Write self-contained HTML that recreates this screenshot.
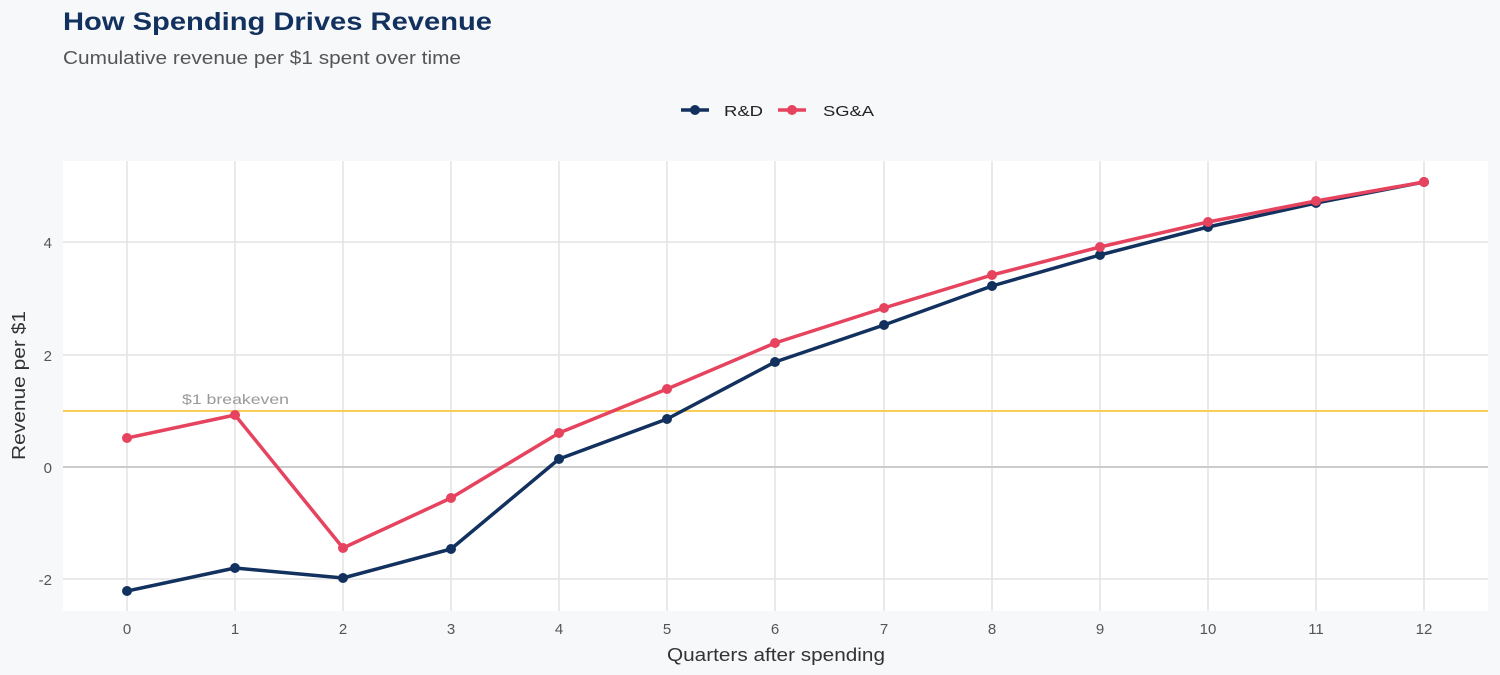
<!DOCTYPE html>
<html><head><meta charset="utf-8"><style>
body{margin:0;background:#f7f8fa;}
svg{display:block;font-family:"Liberation Sans",sans-serif;}
</style></head><body>
<svg width="1500" height="675" viewBox="0 0 1500 675">
<rect width="1500" height="675" fill="#f7f8fa"/>
<text x="63" y="30" font-size="25" font-weight="bold" fill="#12315e" textLength="429" lengthAdjust="spacingAndGlyphs">How Spending Drives Revenue</text>
<text x="63" y="64" font-size="18" fill="#555" textLength="398" lengthAdjust="spacingAndGlyphs">Cumulative revenue per $1 spent over time</text>
<line x1="681" y1="110" x2="709" y2="110" stroke="#12315e" stroke-width="3.5"/><circle cx="695" cy="110" r="5" fill="#12315e"/>
<text x="724" y="116" font-size="15" fill="#222" textLength="39" lengthAdjust="spacingAndGlyphs">R&amp;D</text>
<line x1="778" y1="110" x2="806" y2="110" stroke="#e6435f" stroke-width="3.5"/><circle cx="792" cy="110" r="5" fill="#e6435f"/>
<text x="823" y="116" font-size="15" fill="#222" textLength="51" lengthAdjust="spacingAndGlyphs">SG&amp;A</text>
<rect x="63" y="161" width="1425" height="450" fill="#fff"/>
<g stroke="#e3e3e3" stroke-width="1.5">
<line x1="63" x2="1488" y1="242" y2="242"/><line x1="63" x2="1488" y1="355" y2="355"/><line x1="63" x2="1488" y1="579" y2="579"/>
<line x1="127" x2="127" y1="161" y2="611"/><line x1="235" x2="235" y1="161" y2="611"/><line x1="343" x2="343" y1="161" y2="611"/><line x1="451" x2="451" y1="161" y2="611"/><line x1="559" x2="559" y1="161" y2="611"/><line x1="667" x2="667" y1="161" y2="611"/><line x1="775" x2="775" y1="161" y2="611"/><line x1="884" x2="884" y1="161" y2="611"/><line x1="992" x2="992" y1="161" y2="611"/><line x1="1100" x2="1100" y1="161" y2="611"/><line x1="1208" x2="1208" y1="161" y2="611"/><line x1="1316" x2="1316" y1="161" y2="611"/><line x1="1424" x2="1424" y1="161" y2="611"/>
</g>
<line x1="63" x2="1488" y1="467" y2="467" stroke="#cccccc" stroke-width="2"/>
<line x1="63" x2="1488" y1="411" y2="411" stroke="#f9cd5a" stroke-width="2"/>
<text x="182" y="404" font-size="14" fill="#999" textLength="107" lengthAdjust="spacingAndGlyphs">$1 breakeven</text>
<g font-size="15" fill="#555" text-anchor="end">
<text x="52" y="248">4</text><text x="52" y="361">2</text><text x="52" y="473">0</text><text x="52" y="585">-2</text>
</g>
<g font-size="15" fill="#555" text-anchor="middle">
<text x="127" y="634">0</text><text x="235" y="634">1</text><text x="343" y="634">2</text><text x="451" y="634">3</text><text x="559" y="634">4</text><text x="667" y="634">5</text><text x="775" y="634">6</text><text x="884" y="634">7</text><text x="992" y="634">8</text><text x="1100" y="634">9</text><text x="1208" y="634">10</text><text x="1316" y="634">11</text><text x="1424" y="634">12</text>
</g>
<text x="667" y="661" font-size="18" fill="#333" textLength="218" lengthAdjust="spacingAndGlyphs">Quarters after spending</text>
<text transform="translate(25,460) rotate(-90)" font-size="18" fill="#333" textLength="149" lengthAdjust="spacingAndGlyphs">Revenue per $1</text>
<g fill="#12315e">
<polyline fill="none" stroke="#12315e" stroke-width="3.5" stroke-linejoin="round" points="127,591 235,568 343,578 451,549 559,459 667,419 775,362 884,325 992,286 1100,255 1208,227 1316,203 1424,182"/>
<circle cx="127" cy="591" r="5"/><circle cx="235" cy="568" r="5"/><circle cx="343" cy="578" r="5"/><circle cx="451" cy="549" r="5"/><circle cx="559" cy="459" r="5"/><circle cx="667" cy="419" r="5"/><circle cx="775" cy="362" r="5"/><circle cx="884" cy="325" r="5"/><circle cx="992" cy="286" r="5"/><circle cx="1100" cy="255" r="5"/><circle cx="1208" cy="227" r="5"/><circle cx="1316" cy="203" r="5"/><circle cx="1424" cy="182" r="5"/>
</g>
<g fill="#e6435f">
<polyline fill="none" stroke="#e6435f" stroke-width="3.5" stroke-linejoin="round" points="127,438 235,415 343,548 451,498 559,433 667,389 775,343 884,308 992,275 1100,247 1208,222 1316,201 1424,182"/>
<circle cx="127" cy="438" r="5"/><circle cx="235" cy="415" r="5"/><circle cx="343" cy="548" r="5"/><circle cx="451" cy="498" r="5"/><circle cx="559" cy="433" r="5"/><circle cx="667" cy="389" r="5"/><circle cx="775" cy="343" r="5"/><circle cx="884" cy="308" r="5"/><circle cx="992" cy="275" r="5"/><circle cx="1100" cy="247" r="5"/><circle cx="1208" cy="222" r="5"/><circle cx="1316" cy="201" r="5"/><circle cx="1424" cy="182" r="5"/>
</g>
</svg>
</body></html>
